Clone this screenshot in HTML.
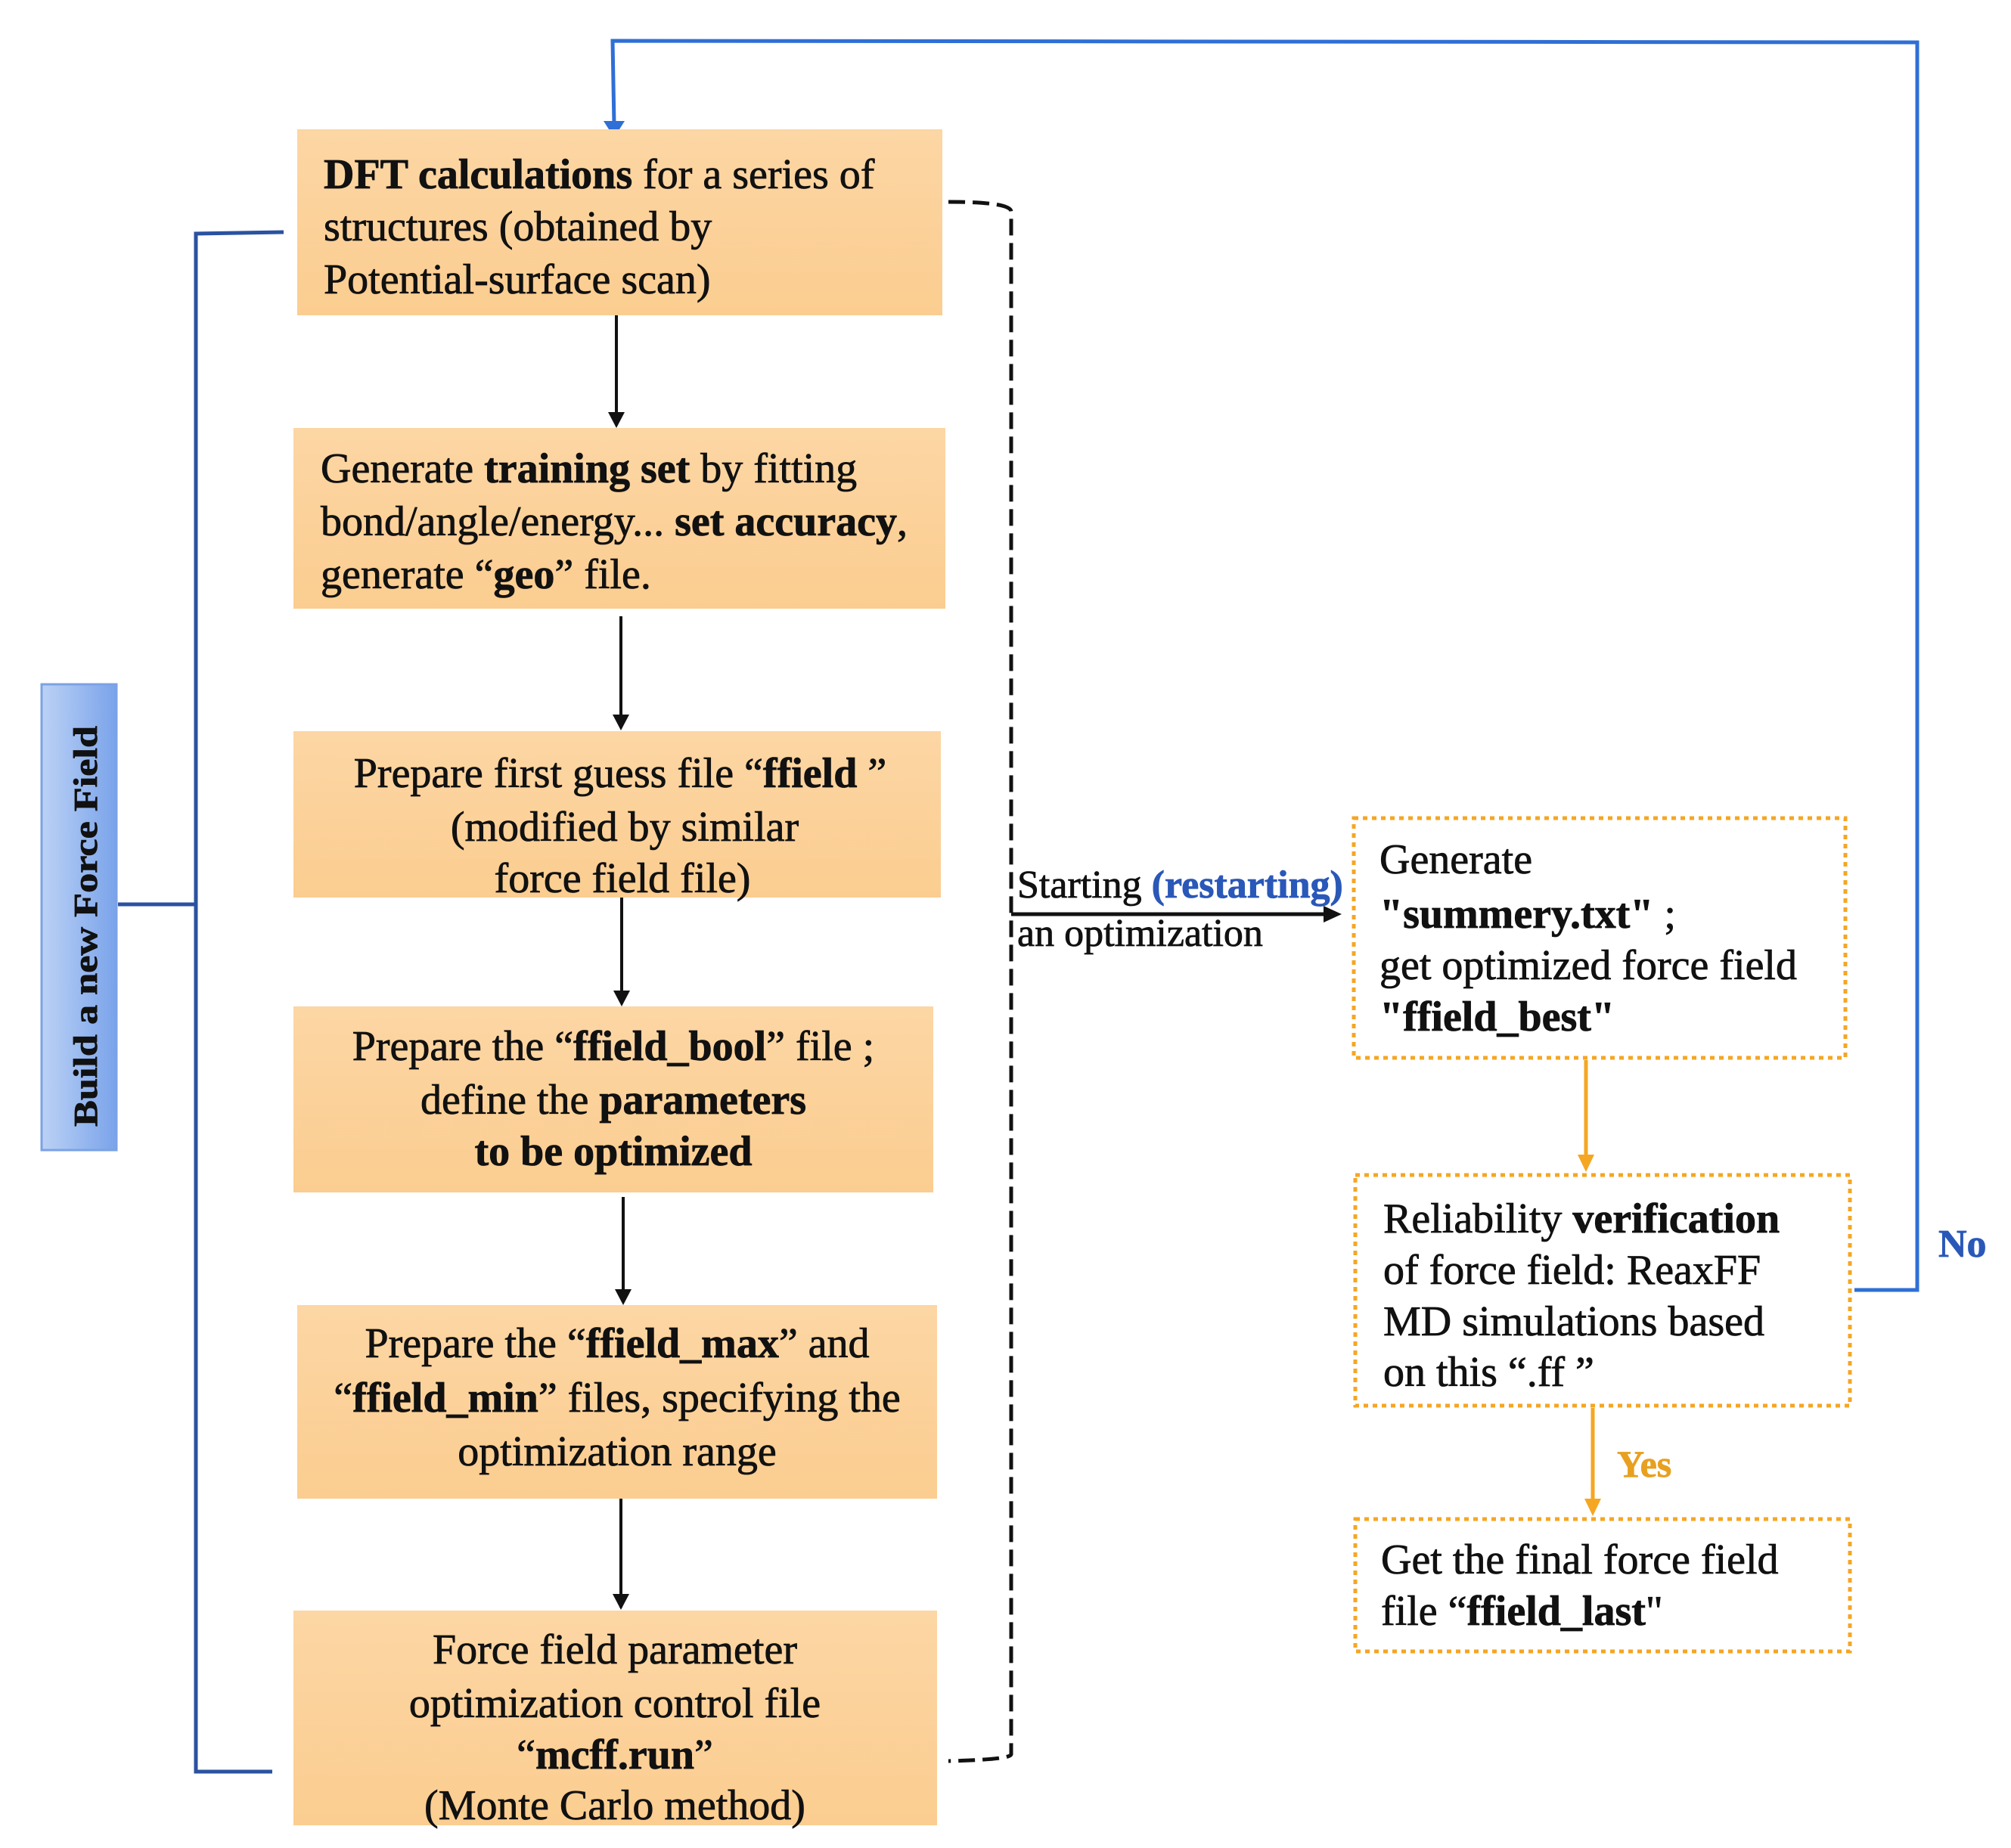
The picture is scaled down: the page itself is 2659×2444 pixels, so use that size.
<!DOCTYPE html>
<html><head><meta charset="utf-8"><style>
html,body{margin:0;padding:0;background:#fff}
svg{display:block}
text{font-family:"Liberation Serif","Times New Roman",serif;font-size:56px;fill:#111;stroke:#111;stroke-width:0.8}
.b{font-weight:bold}
</style></head><body>
<svg width="2659" height="2444" viewBox="0 0 2659 2444" xmlns="http://www.w3.org/2000/svg">
<defs>
<linearGradient id="og" x1="0" y1="0" x2="0" y2="1"><stop offset="0" stop-color="#fcd6a4"/><stop offset="1" stop-color="#fbcd90"/></linearGradient>
<linearGradient id="bg" x1="0" y1="0" x2="1" y2="0"><stop offset="0" stop-color="#bcd2f5"/><stop offset="1" stop-color="#7aa3ea"/></linearGradient>
</defs>

<!-- blue feedback loop -->
<polyline points="2452,1706 2535,1706 2535,56 810,54 812,165" fill="none" stroke="#2f6fd6" stroke-width="5"/>
<path d="M798,160 L826,160 L812,182z" fill="#2f6fd6"/>
<text x="2563" y="1662" class="b" style="fill:#2a58b8;stroke:#2a58b8;font-size:52px">No</text>

<!-- left bracket -->
<polyline points="375,307 259,309 259,2343 360,2343" fill="none" stroke="#2a52a0" stroke-width="5"/>
<line x1="156" y1="1196" x2="259" y2="1196" stroke="#2a52a0" stroke-width="5"/>
<rect x="55" y="905" width="99" height="616" fill="url(#bg)" stroke="#7ba2e4" stroke-width="3"/>
<text transform="translate(128,1490) rotate(-90)" class="b" style="font-size:44px" textLength="530" lengthAdjust="spacingAndGlyphs">Build a new Force Field</text>

<!-- boxes -->
<rect x="393" y="171" width="853" height="246" fill="url(#og)"/>
<rect x="388" y="566" width="862" height="239" fill="url(#og)"/>
<rect x="388" y="967" width="856" height="220" fill="url(#og)"/>
<rect x="388" y="1331" width="846" height="246" fill="url(#og)"/>
<rect x="393" y="1726" width="846" height="256" fill="url(#og)"/>
<rect x="388" y="2130" width="851" height="284" fill="url(#og)"/>

<!-- black arrows -->
<g stroke="#111" stroke-width="4">
<line x1="815" y1="417" x2="815" y2="562"/>
<line x1="821" y1="815" x2="821" y2="962"/>
<line x1="822" y1="1187" x2="822" y2="1327"/>
<line x1="824" y1="1583" x2="824" y2="1722"/>
<line x1="821" y1="1982" x2="821" y2="2126"/>
</g>
<g fill="#111">
<path d="M804,545 L826,545 L815,566z"/>
<path d="M810,945 L832,945 L821,966z"/>
<path d="M811,1310 L833,1310 L822,1331z"/>
<path d="M813,1705 L835,1705 L824,1726z"/>
<path d="M810,2108 L832,2108 L821,2129z"/>
</g>

<!-- dashed bracket -->
<path d="M1254,267 Q1337,267 1337,280 L1337,2320 Q1337,2327 1254,2329" fill="none" stroke="#111" stroke-width="5" stroke-dasharray="22,10"/>
<line x1="1337" y1="1209" x2="1755" y2="1209" stroke="#111" stroke-width="5"/>
<path d="M1750,1198 L1774,1209 L1750,1220z" fill="#111"/>
<text x="1345" y="1187" style="font-size:52px">Starting <tspan class="b" style="fill:#2a58b8;stroke:#2a58b8">(restarting)</tspan></text>
<text x="1345" y="1251" style="font-size:52px">an optimization</text>

<!-- dotted orange boxes -->
<g fill="none" stroke="#f5a623" stroke-width="5" stroke-dasharray="6,6">
<rect x="1790" y="1082" width="650" height="317"/>
<rect x="1792" y="1554" width="654" height="305"/>
<rect x="1792" y="2009" width="654" height="175"/>
</g>
<g stroke="#f5a623" stroke-width="5">
<line x1="2097" y1="1402" x2="2097" y2="1530"/>
<line x1="2106" y1="1862" x2="2106" y2="1985"/>
</g>
<g fill="#f5a623">
<path d="M2086,1527 L2108,1527 L2097,1550z"/>
<path d="M2095,1982 L2117,1982 L2106,2005z"/>
</g>
<text x="2138" y="1953" class="b" style="fill:#e8a020;stroke:#e8a020;font-size:50px">Yes</text>

<!-- box text -->
<text x="428" y="249"><tspan class="b">DFT calculations</tspan> for a series of</text>
<text x="428" y="318">structures (obtained by</text>
<text x="428" y="388">Potential-surface scan)</text>

<text x="424" y="638">Generate <tspan class="b">training set</tspan> by fitting</text>
<text x="424" y="708">bond/angle/energy... <tspan class="b">set accuracy</tspan>,</text>
<text x="424" y="778">generate “<tspan class="b">geo</tspan>” file.</text>

<g text-anchor="middle">
<text x="820" y="1041">Prepare first guess file “<tspan class="b">ffield</tspan> ”</text>
<text x="826" y="1112">(modified by similar</text>
<text x="823" y="1180">force field file)</text>

<text x="811" y="1402">Prepare the “<tspan class="b">ffield_bool</tspan>” file ;</text>
<text x="811" y="1473">define the <tspan class="b">parameters</tspan></text>
<text x="811" y="1541" class="b">to be optimized</text>

<text x="816" y="1795">Prepare the “<tspan class="b">ffield_max</tspan>” and</text>
<text x="816" y="1867">“<tspan class="b">ffield_min</tspan>” files, specifying the</text>
<text x="816" y="1938">optimization range</text>

<text x="813" y="2200">Force field parameter</text>
<text x="813" y="2271">optimization control file</text>
<text x="813" y="2339">“<tspan class="b">mcff.run</tspan>”</text>
<text x="813" y="2406">(Monte Carlo method)</text>
</g>

<text x="1824" y="1155">Generate</text>
<text x="1824" y="1227"><tspan class="b">"summery.txt"</tspan> ;</text>
<text x="1824" y="1295">get optimized force field</text>
<text x="1824" y="1363" class="b">"ffield_best"</text>

<text x="1829" y="1630">Reliability <tspan class="b">verification</tspan></text>
<text x="1829" y="1698">of force field: ReaxFF</text>
<text x="1829" y="1766">MD simulations based</text>
<text x="1829" y="1833">on this “.ff ”</text>

<text x="1826" y="2081">Get the final force field</text>
<text x="1826" y="2149">file “<tspan class="b">ffield_last</tspan>"</text>
</svg>
</body></html>
